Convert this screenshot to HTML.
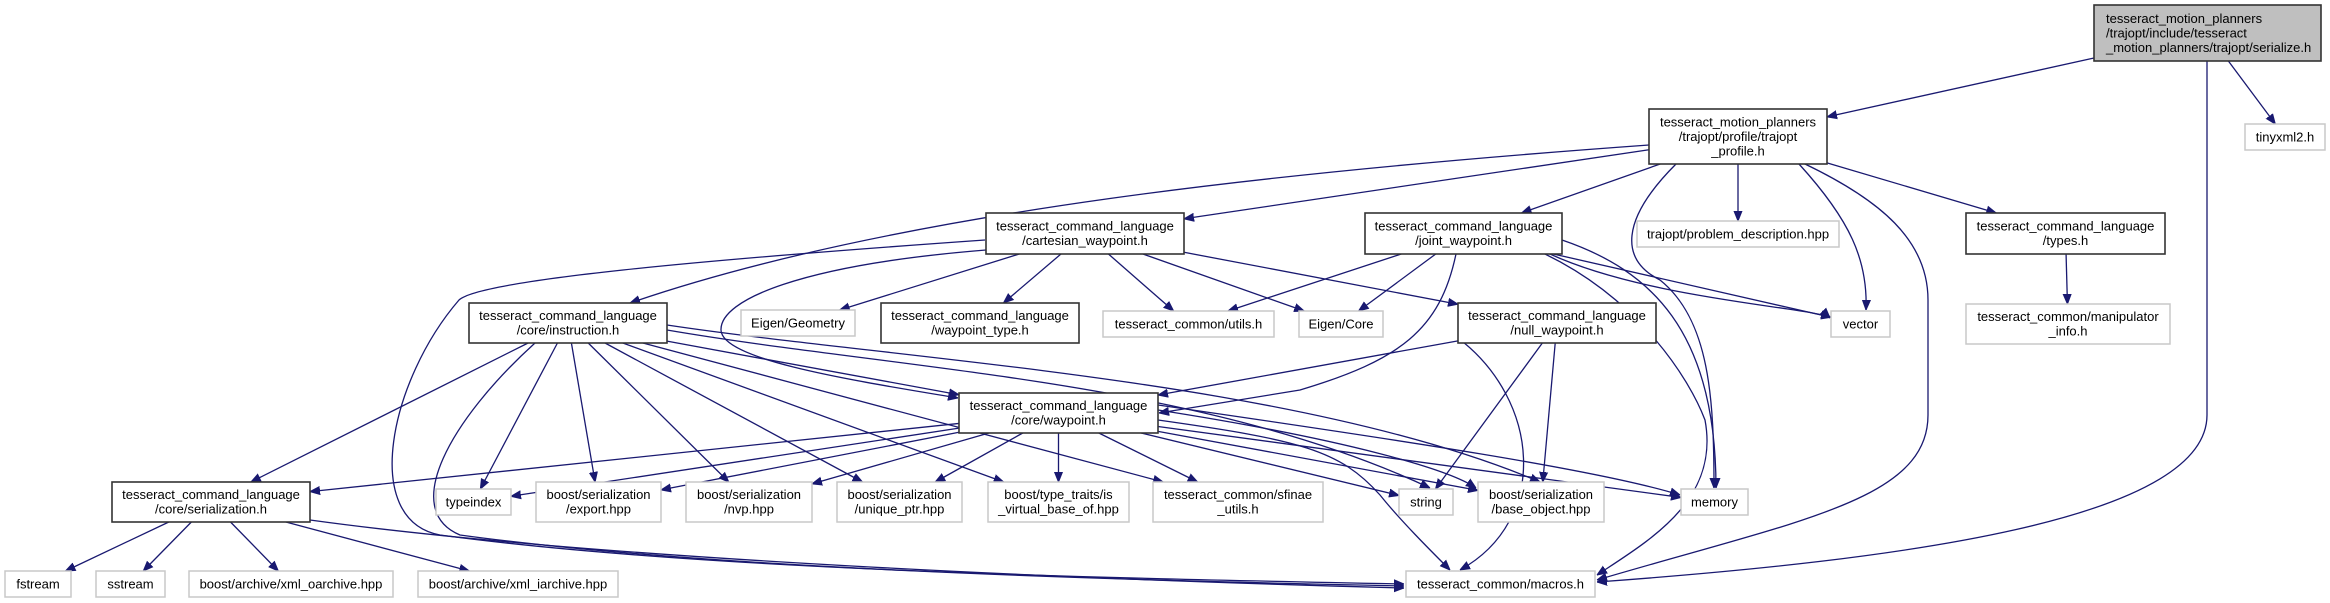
<!DOCTYPE html>
<html><head><meta charset="utf-8">
<style>
html,body{margin:0;padding:0;background:#fff;}
svg{display:block;}
text{font-family:"Liberation Sans",Arial,sans-serif;font-size:13px;fill:#000;}
</style></head>
<body>
<svg id="g" width="2330" height="603" viewBox="0 0 2330 603" xmlns="http://www.w3.org/2000/svg">
<defs>
<marker id="ah" viewBox="0 0 10 10" refX="10" refY="5" markerWidth="10" markerHeight="10" markerUnits="userSpaceOnUse" orient="auto">
<path d="M0,1 L10,5 L0,9 z" fill="#191970" stroke="#191970"/>
</marker>
</defs>
<g id="edges" fill="none" stroke="#191970" stroke-width="1.3"></g>
<g id="nodes"></g>
</svg>
<script>
(function(){
var N={
A:[2094,5,227,56,'s',['tesseract_motion_planners','/trajopt/include/tesseract','_motion_planners/trajopt/serialize.h'],'l'],
B:[2245,124,80,26,'g',['tinyxml2.h']],
C:[1649,109,178,55,'b',['tesseract_motion_planners','/trajopt/profile/trajopt','_profile.h']],
D:[986,213,198,41,'b',['tesseract_command_language','/cartesian_waypoint.h']],
E:[1365,213,197,41,'b',['tesseract_command_language','/joint_waypoint.h']],
F:[1637,221,202,26,'g',['trajopt/problem_description.hpp']],
G:[1966,213,199,41,'b',['tesseract_command_language','/types.h']],
H:[1966,304,204,40,'g',['tesseract_common/manipulator','_info.h']],
I:[469,303,198,40,'b',['tesseract_command_language','/core/instruction.h']],
J:[741,310,114,26,'g',['Eigen/Geometry']],
K:[881,303,198,40,'b',['tesseract_command_language','/waypoint_type.h']],
L:[1103,311,171,26,'g',['tesseract_common/utils.h']],
M:[1299,311,84,26,'g',['Eigen/Core']],
N:[1458,303,198,40,'b',['tesseract_command_language','/null_waypoint.h']],
O:[1831,311,59,26,'g',['vector']],
P:[959,393,199,40,'b',['tesseract_command_language','/core/waypoint.h']],
Q:[112,482,198,40,'b',['tesseract_command_language','/core/serialization.h']],
R:[436,489,75,26,'g',['typeindex']],
S:[536,482,125,40,'g',['boost/serialization','/export.hpp']],
T:[686,482,126,40,'g',['boost/serialization','/nvp.hpp']],
U:[837,482,125,40,'g',['boost/serialization','/unique_ptr.hpp']],
V:[988,482,141,40,'g',['boost/type_traits/is','_virtual_base_of.hpp']],
W:[1153,482,170,40,'g',['tesseract_common/sfinae','_utils.h']],
X:[1399,489,54,26,'g',['string']],
Y:[1478,482,126,40,'g',['boost/serialization','/base_object.hpp']],
Z:[1681,489,67,26,'g',['memory']],
AA:[1406,571,189,26,'g',['tesseract_common/macros.h']],
F1:[5,571,66,26,'g',['fstream']],
F2:[96,571,69,26,'g',['sstream']],
F3:[189,571,204,26,'g',['boost/archive/xml_oarchive.hpp']],
F4:[418,571,200,26,'g',['boost/archive/xml_iarchive.hpp']]
};
var straight=[['A','C'],['A','B'],['C','D'],['C','E'],['C','F'],['C','G'],['G','H'],
['D','J'],['D','K'],['D','L'],['D','M'],['D','N'],['E','L'],['E','M'],['E','O'],
['N','X'],['N','Y'],['I','Q'],['I','R'],['I','S'],['I','T'],['I','U'],['I','V'],['I','W'],['I','P'],
['P','Q'],['P','R'],['P','S'],['P','T'],['P','U'],['P','V'],['P','W'],['P','X'],['P','Y'],['P','Z'],
['Q','F1'],['Q','F2'],['Q','F3'],['Q','F4'],['N','P']];
var paths=[
'M2207 61 L2207 415 C2207 520 1900 560 1597 582',
'M1805 164 C1880 200 1928 240 1928 300 L1928 415 C1928 500 1800 520 1597 580',
'M1799 164 C1850 220 1868 260 1866 310',
'M1676 164 C1620 220 1620 260 1660 280 C1710 320 1714 400 1714 488',
'M1562 240 C1650 270 1716 330 1716 488',
'M1545 254 C1640 300 1690 380 1705 420 C1720 500 1650 540 1597 575',
'M1550 254 C1650 300 1820 308 1830 318',
'M1458 338 C1540 400 1550 520 1460 570',
'M1456 254 C1440 330 1400 360 1300 390 L1159 413',
'M1649 145 C1300 170 900 210 630 303',
'M985 240 C700 260 480 280 459 300 C390 380 360 520 440 535 C700 570 1100 578 1404 584',
'M986 250 C800 265 720 300 721 330 C722 360 850 380 958 398',
'M535 343 C450 420 400 510 460 535 C700 568 1100 580 1404 586',
'M310 520 C600 560 1100 580 1404 588',
'M667 330 C900 370 1200 380 1430 488',
'M667 325 C900 360 1300 380 1540 482',
'M1158 420 C1300 440 1340 450 1380 495 C1400 520 1430 550 1450 570',
'M1158 410 C1350 440 1450 470 1476 488',
'M1158 405 C1400 440 1600 470 1680 495'
];
var eg=document.getElementById('edges'),ng=document.getElementById('nodes'),ns='http://www.w3.org/2000/svg';
function clip(n,tx,ty){var x=n[0],y=n[1],w=n[2],h=n[3],cx=x+w/2,cy=y+h/2,dx=tx-cx,dy=ty-cy;
 var sx=dx?Math.abs((w/2)/dx):1e9,sy=dy?Math.abs((h/2)/dy):1e9,s=Math.min(sx,sy);return [cx+dx*s,cy+dy*s];}
straight.forEach(function(e){var a=N[e[0]],b=N[e[1]];
 var ac=[a[0]+a[2]/2,a[1]+a[3]/2],bc=[b[0]+b[2]/2,b[1]+b[3]/2];
 var p=clip(a,bc[0],bc[1]),q=clip(b,ac[0],ac[1]);
 var l=document.createElementNS(ns,'path');l.setAttribute('d','M'+p[0]+' '+p[1]+' L'+q[0]+' '+q[1]);
 l.setAttribute('marker-end','url(#ah)');eg.appendChild(l);});
paths.forEach(function(d){var l=document.createElementNS(ns,'path');l.setAttribute('d',d);l.setAttribute('marker-end','url(#ah)');eg.appendChild(l);});
Object.keys(N).forEach(function(k){var n=N[k];var r=document.createElementNS(ns,'rect');
 r.setAttribute('x',n[0]);r.setAttribute('y',n[1]);r.setAttribute('width',n[2]);r.setAttribute('height',n[3]);
 r.setAttribute('fill',n[4]=='s'?'#bfbfbf':'#fff');
 r.setAttribute('stroke',n[4]=='g'?'#c8c8c8':'#333');r.setAttribute('stroke-width',n[4]=='g'?1.5:1.6);
 ng.appendChild(r);
 var L=n[5],lh=14.5,ty0=n[1]+n[3]/2-(L.length*lh)/2;
 L.forEach(function(s,i){var t=document.createElementNS(ns,'text');
  if(n[6]=='l'){t.setAttribute('x',n[0]+12);}else{t.setAttribute('x',n[0]+n[2]/2);t.setAttribute('text-anchor','middle');}
  t.setAttribute('y',ty0+lh*i+11.5);t.textContent=s;ng.appendChild(t);});});
})();
</script>
</body></html>
